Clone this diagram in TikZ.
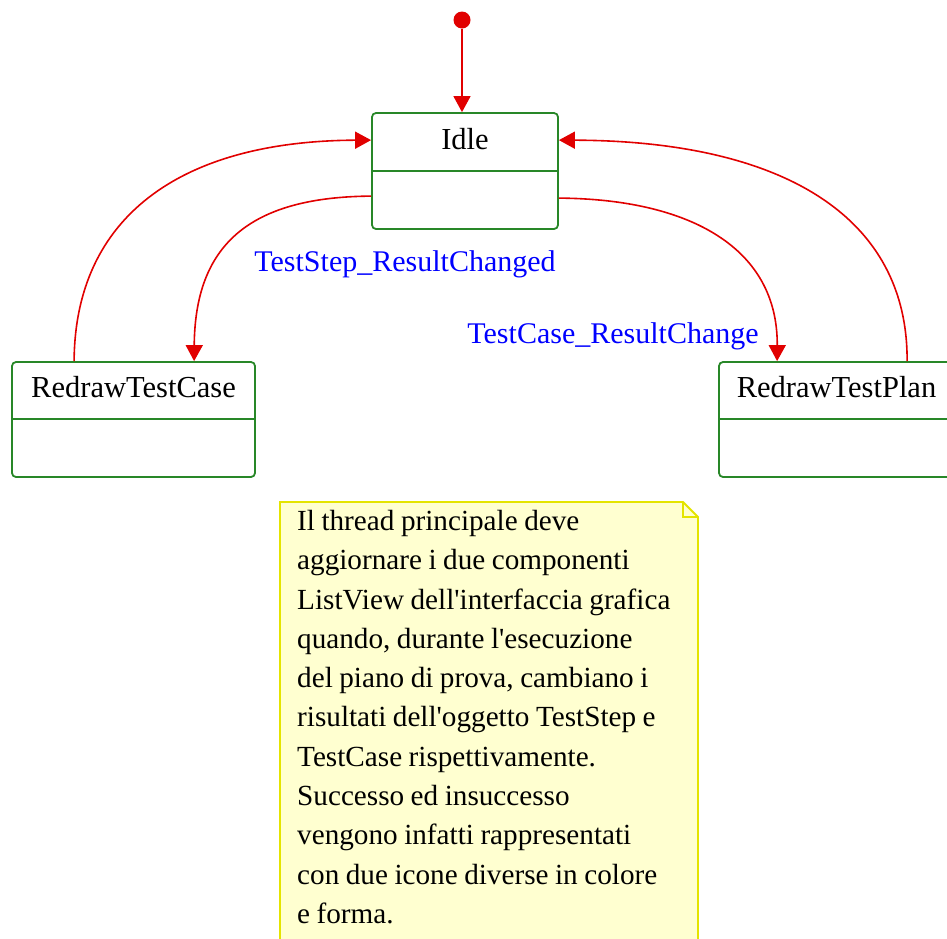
\documentclass[tikz,border=0pt]{standalone}
\usepackage{fontspec}
\setmainfont{Liberation Serif}
\usetikzlibrary{arrows.meta,calc}
\definecolor{boxgreen}{RGB}{40,135,40}
\definecolor{linkred}{RGB}{225,0,0}
\definecolor{notefill}{RGB}{255,255,208}
\definecolor{noteedge}{RGB}{228,228,0}
\newcommand{\apos}{\textquotesingle}
\begin{document}
\begin{tikzpicture}[x=1pt,y=-1pt,
  statebox/.style={draw=boxgreen,line width=1.8pt,rounded corners=4pt,inner sep=0pt,minimum height=116pt},
  divider/.style={draw=boxgreen,line width=1.8pt},
  title/.style={font=\fontsize{30.5}{34}\selectfont,inner sep=0pt},
  trans/.style={draw=linkred,line width=1.6pt,-{Triangle[length=16pt,width=17pt]}},
  evlabel/.style={text=blue,font=\fontsize{30}{34}\selectfont,inner sep=0pt,anchor=base}]
\useasboundingbox (0,0) rectangle (947,938);
\clip (0,0) rectangle (947,938);

% states
\node[statebox,minimum width=186pt] (idle) at (465,171) {};
\draw[divider] ($(idle.north west)+(0,59)$) -- ($(idle.north east)+(0,59)$);
\node[title] (idlet) at ($(idle.north)+(0,27)$) {Idle};

\node[statebox,minimum width=243pt,minimum height=115pt] (tc) at (133.5,419.5) {};
\draw[divider] ($(tc.north west)+(0,58)$) -- ($(tc.north east)+(0,58)$);
\node[title] (tct) at ($(tc.north)+(0,26)$) {RedrawTestCase};

\node[statebox,minimum width=235pt,minimum height=115pt] (tp) at (836.5,419.5) {};
\draw[divider] ($(tp.north west)+(0,58)$) -- ($(tp.north east)+(0,58)$);
\node[title] (tpt) at ($(tp.north)+(0,26)$) {RedrawTestPlan};

% initial pseudo-state
\node[circle,fill=linkred,minimum size=17pt,inner sep=0pt] (init) at (462,20) {};
\draw[trans] (init) -- (init |- idle.north);

% transitions
\draw[trans] ($(tc.north west)+(63,0)$) .. controls (75,218) and (179,141) .. ($(idle.north west)+(0,28)$);
\draw[trans] ($(idle.north west)+(0,84)$) .. controls (248,197) and (195,246) .. ($(tc.north west)+(183,0)$);
\draw[trans] ($(idle.north east)+(0,86)$) .. controls (690,199) and (778,248) .. ($(tp.north west)+(59,0)$);
\draw[trans] ($(tp.north west)+(189,0)$) .. controls (908,218) and (785,141) .. ($(idle.north east)+(0,28)$);

\node[evlabel] (lstep) at (405,271) {TestStep\_ResultChanged};
\node[evlabel] (lcase) at (613,343) {TestCase\_ResultChange};

% note
\draw[fill=notefill,draw=noteedge,line width=1.8pt] (280,502) -- (683,502) -- (698,517) -- (698,960) -- (280,960) -- cycle;
\draw[draw=noteedge,line width=1.2pt] (683,502) -- (683,517) -- (698,517);
\node[anchor=north west,inner sep=0pt,text width=395pt,align=left,
      font=\fontsize{29.2}{39.3}\selectfont] (note) at (297,510)
 {\spaceskip=6.5pt plus 3pt minus 1.5pt\relax
  Il thread principale deve\\
  aggiornare i due componenti\\
  ListView dell\apos interfaccia grafica\\
  quando, durante l\apos esecuzione\\
  del piano di prova, cambiano i\\
  risultati dell\apos oggetto TestStep e\\
  TestCase rispettivamente.\\
  Successo ed insuccesso\\
  vengono infatti rappresentati\\
  con due icone diverse in colore\\
  e forma.};
\end{tikzpicture}
\end{document}
